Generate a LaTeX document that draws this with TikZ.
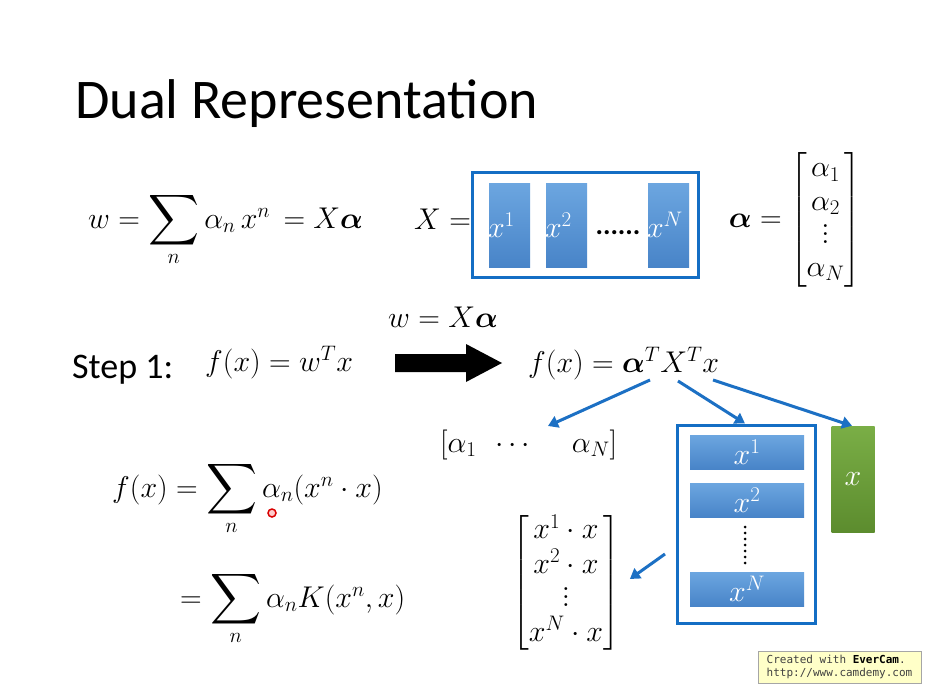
\RequirePackage{fix-cm}
\documentclass[tikz,border=0pt]{standalone}
\usepackage{amsmath}
\usepackage{graphicx}
\usepackage[no-math]{fontspec}
\setmainfont{Carlito}
\newfontfamily\evermono{DejaVu Sans Mono}
\usetikzlibrary{arrows.meta}
\definecolor{boxblue}{RGB}{20,110,196}
\definecolor{arrowblue}{RGB}{28,112,196}
\definecolor{rtop}{RGB}{108,166,224}
\definecolor{rbot}{RGB}{72,132,200}
\definecolor{gtop}{RGB}{122,174,70}
\definecolor{gbot}{RGB}{92,140,46}
\definecolor{every}{RGB}{255,255,200}
\newcommand\myvdots{\vbox{\baselineskip=8pt\lineskiplimit=0pt\kern4pt\hbox{$.$}\hbox{$.$}\hbox{$.$}}}
\newcommand\BigSum{\mathop{\vcenter{\hbox{\scalebox{1.42}{$\displaystyle\sum$}}}}\limits}
\begin{document}
\begin{tikzpicture}[x=1pt,y=-1pt,
  mth/.style={font=\fontsize{30}{36}\selectfont, inner sep=0pt},
  bigbox/.style={draw=boxblue, line width=3pt, inner sep=0pt},
  colrect/.style={top color=rtop, bottom color=rbot, draw=none, minimum width=41pt, minimum height=84pt, inner sep=0pt},
  rowrect/.style={top color=rtop, bottom color=rbot, draw=none, minimum width=114pt, minimum height=34pt, inner sep=0pt, text=white, font=\fontsize{30}{36}\selectfont},
  greenrect/.style={top color=gtop, bottom color=gbot, draw=none, minimum width=43pt, minimum height=106pt, inner sep=0pt, text=white, font=\fontsize{30}{36}\selectfont},
  barrow/.style={draw=arrowblue, line width=3pt, -{Triangle[length=10pt,width=12pt]}}]
\fill[white] (0,0) rectangle (927,693);
\useasboundingbox (0,0) rectangle (927,693);

% title
\node[anchor=base west, font=\fontsize{56}{60}\selectfont, inner sep=0pt] (title) at (75,118) {Dual Representation};

% first line
\node[mth, anchor=base west] (weq) at (88,228) {$w=\BigSum_n \alpha_n\, x^n\, = X\boldsymbol{\alpha}$};
\node[mth, anchor=base west] (Xeq) at (414,229) {$X=$};
\node[bigbox, minimum width=226pt, minimum height=105pt] (Xbox) at (585,224.5) {};
\node[colrect] (c1) at (509.5,225) {};
\node[colrect] (c2) at (566.5,225) {};
\node[colrect] (cN) at (668.5,225) {};
\node[mth, text=white, anchor=west] (l1) at ([xshift=-1pt]c1.west) {$x^1$};
\node[mth, text=white, anchor=west] (l2) at ([xshift=-1pt]c2.west) {$x^2$};
\node[mth, text=white, anchor=west] (lN) at ([xshift=-1pt]cN.west) {$x^N$};
\node[font=\bfseries\fontsize{28}{30}\selectfont, anchor=base, inner sep=0pt] (dots) at (618,234) {......};
\node[mth] (avec) at (795,220) {$\renewcommand\arraystretch{0.92}\boldsymbol{\alpha} = \begin{bmatrix}\alpha_1\\ \alpha_2\\ \myvdots\\ \alpha_N\end{bmatrix}$};

% w = X alpha
\node[mth, anchor=base west] (wxa) at (388,327) {$w = X\boldsymbol{\alpha}$};

% step 1
\node[font=\fontsize{36}{40}\selectfont, anchor=base west, inner sep=0pt] (step) at (72,378) {Step 1:};
\node[mth, anchor=base west] (f1) at (205,371) {$f(x) = w^T x$};
\fill[black] (395,354) -- (466,354) -- (466,344) -- (502,363) -- (466,382) -- (466,372) -- (395,372) -- cycle;
\node[mth, anchor=base west] (f2) at (528,372) {$f(x) = \boldsymbol{\alpha}^T X^T x$};

% decomposition
\node[mth, anchor=base west] (alist) at (440,452) {$[\alpha_1\ \ \cdots\quad\ \alpha_N]$};
\node[bigbox, minimum width=138pt, minimum height=198pt] (Xtbox) at (746,524) {};
\node[rowrect] (r1) at (747,452) {$x^1$};
\node[rowrect] (r2) at (747,500) {$x^2$};
\node[rowrect] (rN) at (747,589) {$x^N$};
\coordinate (vd1) at (745,527);
\coordinate (vd2) at (745,563);
\draw[line width=3pt, line cap=round, dash pattern=on 0pt off 6pt] (vd1) -- (vd2);
\node[greenrect] (g) at (853,479) {$x$};

\coordinate (aT) at (650,380);
\coordinate (XT) at (678,381);
\coordinate (xx) at (713,380);
\draw[barrow] (aT) -- (548,426);
\draw[barrow] (XT) -- ([xshift=-1pt]Xtbox.north);
\draw[barrow] (xx) -- ([xshift=-1pt]g.north);

\node[mth] (mat) at (566,583) {$\renewcommand\arraystretch{0.92}\begin{bmatrix} x^1\cdot x\\ x^2\cdot x\\ \myvdots\\ x^N\cdot x\end{bmatrix}$};
\coordinate (m0) at (665,554);
\draw[barrow] (m0) -- ([xshift=10pt,yshift=4pt]mat.east);

% left equations
\node[mth, anchor=base west] (f3) at (112,497) {$f(x) = \BigSum_n \alpha_n (x^n\cdot x)$};
\node[mth, anchor=base west] (f4) at (180,607) {$= \BigSum_n \alpha_n K(x^n, x)$};

% cursor mark
\node[circle, draw=red!85!black, line width=1.5pt, fill=red!20, minimum size=8pt, inner sep=0pt] (cursor) at (272,513) {};

% watermark
\node[draw=gray!70, fill=every, minimum width=163pt, minimum height=32pt, inner sep=3pt, align=left, font=\evermono\fontsize{11}{13.5}\selectfont, text=black!75] (ever) at (839.5,667) {Created with \textbf{\color{black}EverCam}.\\http://www.camdemy.com};
\end{tikzpicture}
\end{document}
